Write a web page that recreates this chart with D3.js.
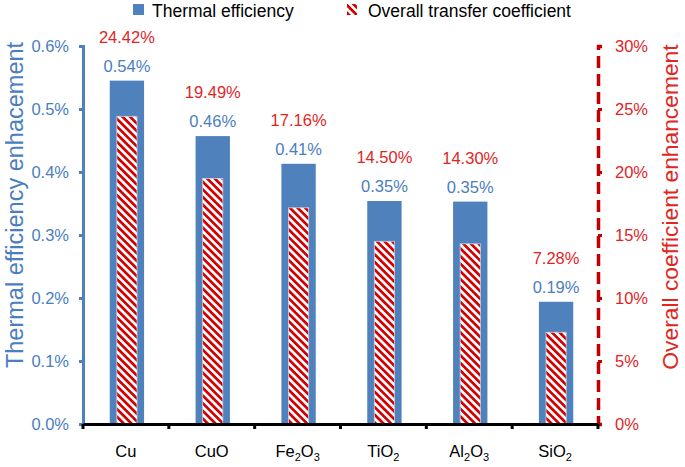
<!DOCTYPE html>
<html>
<head>
<meta charset="utf-8">
<script src="https://cdn.jsdelivr.net/npm/d3@7"></script>
<style>
  body { margin: 0; background: #fff; }
  svg { font-family: "Liberation Sans", Arial, Helvetica, sans-serif; }
</style>
</head>
<body>
<div id="chart"></div>
<script>
// categories, with subscript digits marked by "_"
const categories = ['Cu', 'CuO', 'Fe_2O_3', 'TiO_2', 'Al_2O_3', 'SiO_2'];
// thermal efficiency enhancement (%), left axis
const effValues = [0.545, 0.457, 0.413, 0.354, 0.353, 0.194];
const effLabels = ['0.54%', '0.46%', '0.41%', '0.35%', '0.35%', '0.19%'];
// overall transfer coefficient enhancement (%), right axis
const coefValues = [24.42, 19.49, 17.16, 14.50, 14.30, 7.28];
const coefLabels = ['24.42%', '19.49%', '17.16%', '14.50%', '14.30%', '7.28%'];
const leftTicks = [0, 0.1, 0.2, 0.3, 0.4, 0.5, 0.6];
const rightTicks = [0, 5, 10, 15, 20, 25, 30];

const width = 685, height = 467;
const blue = '#4f81bd', blueText = '#4a7ebf', red = '#c00000', redText = '#e0261f';

const svg = d3.select('#chart').append('svg')
  .attr('width', width)
  .attr('height', height);

// hatch pattern
const defs = svg.append('defs');
const pat = defs.append('pattern')
  .attr('id', 'hatch')
  .attr('patternUnits', 'userSpaceOnUse')
  .attr('width', 5.4).attr('height', 5.4)
  .attr('patternTransform', 'rotate(45)');
pat.append('rect').attr('width', 5.4).attr('height', 5.4).attr('fill', '#fff');
pat.append('rect').attr('width', 5.4).attr('height', 2.7).attr('fill', '#d40000');

const x = d3.scaleBand().domain(categories).range([83, 598]).padding(0);
const yL = d3.scaleLinear().domain([0, 0.6]).range([424, 46]);
const yR = d3.scaleLinear().domain([0, 30]).range([424, 46]);

const bw = x.bandwidth();
const blueW = bw * 0.4, hatchW = bw * 0.235;

// blue bars
svg.append('g').selectAll('rect')
  .data(categories)
  .join('rect')
  .attr('x', (d) => x(d) + bw / 2 - blueW / 2 + 1)
  .attr('y', (d, i) => yL(effValues[i]))
  .attr('width', blueW)
  .attr('height', (d, i) => yL(0) - yL(effValues[i]))
  .attr('fill', blue);

// hatched bars
svg.append('g').selectAll('rect')
  .data(categories)
  .join('rect')
  .attr('x', (d) => x(d) + bw / 2 - hatchW / 2 + 1)
  .attr('y', (d, i) => yR(coefValues[i]))
  .attr('width', hatchW)
  .attr('height', (d, i) => yR(0) - yR(coefValues[i]))
  .attr('fill', 'url(#hatch)')
  .attr('stroke', '#c9d5e6')
  .attr('stroke-width', 0.8);

// value labels
const lbl = svg.append('g').attr('font-size', 16.5).attr('text-anchor', 'middle');
lbl.selectAll('.eff')
  .data(categories)
  .join('text')
  .attr('class', 'eff')
  .attr('x', (d) => x(d) + bw / 2 + 1)
  .attr('y', (d, i) => yL(effValues[i]) - 9)
  .attr('fill', blueText)
  .text((d, i) => effLabels[i]);
lbl.selectAll('.coef')
  .data(categories)
  .join('text')
  .attr('class', 'coef')
  .attr('x', (d) => x(d) + bw / 2 + 1)
  .attr('y', (d, i) => yL(effValues[i]) - 38)
  .attr('fill', redText)
  .text((d, i) => coefLabels[i]);

// left axis
const axL = svg.append('g')
  .attr('transform', 'translate(83,0)')
  .call(d3.axisLeft(yL).tickValues(leftTicks).tickSize(4).tickPadding(10)
    .tickFormat((d) => d.toFixed(1) + '%'));
axL.select('.domain').attr('stroke', blue).attr('stroke-width', 3);
axL.selectAll('.tick line').attr('stroke', blue).attr('stroke-width', 3);
axL.selectAll('.tick text').attr('fill', blueText).attr('font-size', 16.5)
  .attr('font-family', '"Liberation Sans", Arial, sans-serif');

// right axis
const axR = svg.append('g')
  .attr('transform', 'translate(598,0)')
  .call(d3.axisRight(yR).tickValues(rightTicks).tickSize(4).tickPadding(13)
    .tickFormat((d) => d + '%'));
axR.select('.domain').attr('stroke', red).attr('stroke-width', 3.5)
  .attr('stroke-dasharray', '12 6');
axR.selectAll('.tick line').attr('stroke', red).attr('stroke-width', 3);
axR.selectAll('.tick text').attr('fill', redText).attr('font-size', 16.5)
  .attr('font-family', '"Liberation Sans", Arial, sans-serif');

// x axis
const axX = svg.append('g')
  .attr('transform', 'translate(0,424)')
  .call(d3.axisBottom(x).tickSize(0).tickPadding(22).tickFormat(''));
axX.select('.domain').attr('stroke', '#000').attr('stroke-width', 3);
const bounds = categories.map((d) => x(d)).concat([x.range()[1]]);
axX.selectAll('.sep')
  .data(bounds)
  .join('line')
  .attr('class', 'sep')
  .attr('x1', (d) => d).attr('x2', (d) => d)
  .attr('y1', 0).attr('y2', 5)
  .attr('stroke', '#000').attr('stroke-width', 3);

// category labels with subscripts
const catText = svg.append('g').selectAll('text')
  .data(categories)
  .join('text')
  .attr('x', (d) => x(d) + bw / 2)
  .attr('y', 457)
  .attr('text-anchor', 'middle')
  .attr('font-size', 16.5)
  .attr('fill', '#000');
catText.each(function (d) {
  const t = d3.select(this);
  const parts = d.split(/(_\d)/).filter((p) => p.length);
  let sub = false;
  parts.forEach((p) => {
    if (p[0] === '_') {
      t.append('tspan').attr('font-size', 11).attr('dy', 4).text(p.slice(1));
      sub = true;
    } else {
      t.append('tspan').attr('dy', sub ? -4 : 0).text(p);
      sub = false;
    }
  });
});

// axis titles
svg.append('text')
  .attr('transform', 'translate(23,205) rotate(-90)')
  .attr('text-anchor', 'middle')
  .attr('font-size', 23.5)
  .attr('fill', blueText)
  .text('Thermal efficiency enhacement');
svg.append('text')
  .attr('transform', 'translate(678,207) rotate(-90)')
  .attr('text-anchor', 'middle')
  .attr('font-size', 22.8)
  .attr('fill', redText)
  .text('Overall coefficient enhancement');

// legend
svg.append('rect').attr('x', 133).attr('y', 4).attr('width', 11).attr('height', 11).attr('fill', blue);
svg.append('text').attr('x', 152).attr('y', 17).attr('font-size', 17.5).attr('fill', '#000')
  .text('Thermal efficiency');
svg.append('rect').attr('x', 347).attr('y', 4).attr('width', 10).attr('height', 11).attr('fill', 'url(#hatch)');
svg.append('text').attr('x', 368).attr('y', 17).attr('font-size', 17.5).attr('fill', '#000')
  .text('Overall transfer coefficient');
</script>
</body>
</html>
